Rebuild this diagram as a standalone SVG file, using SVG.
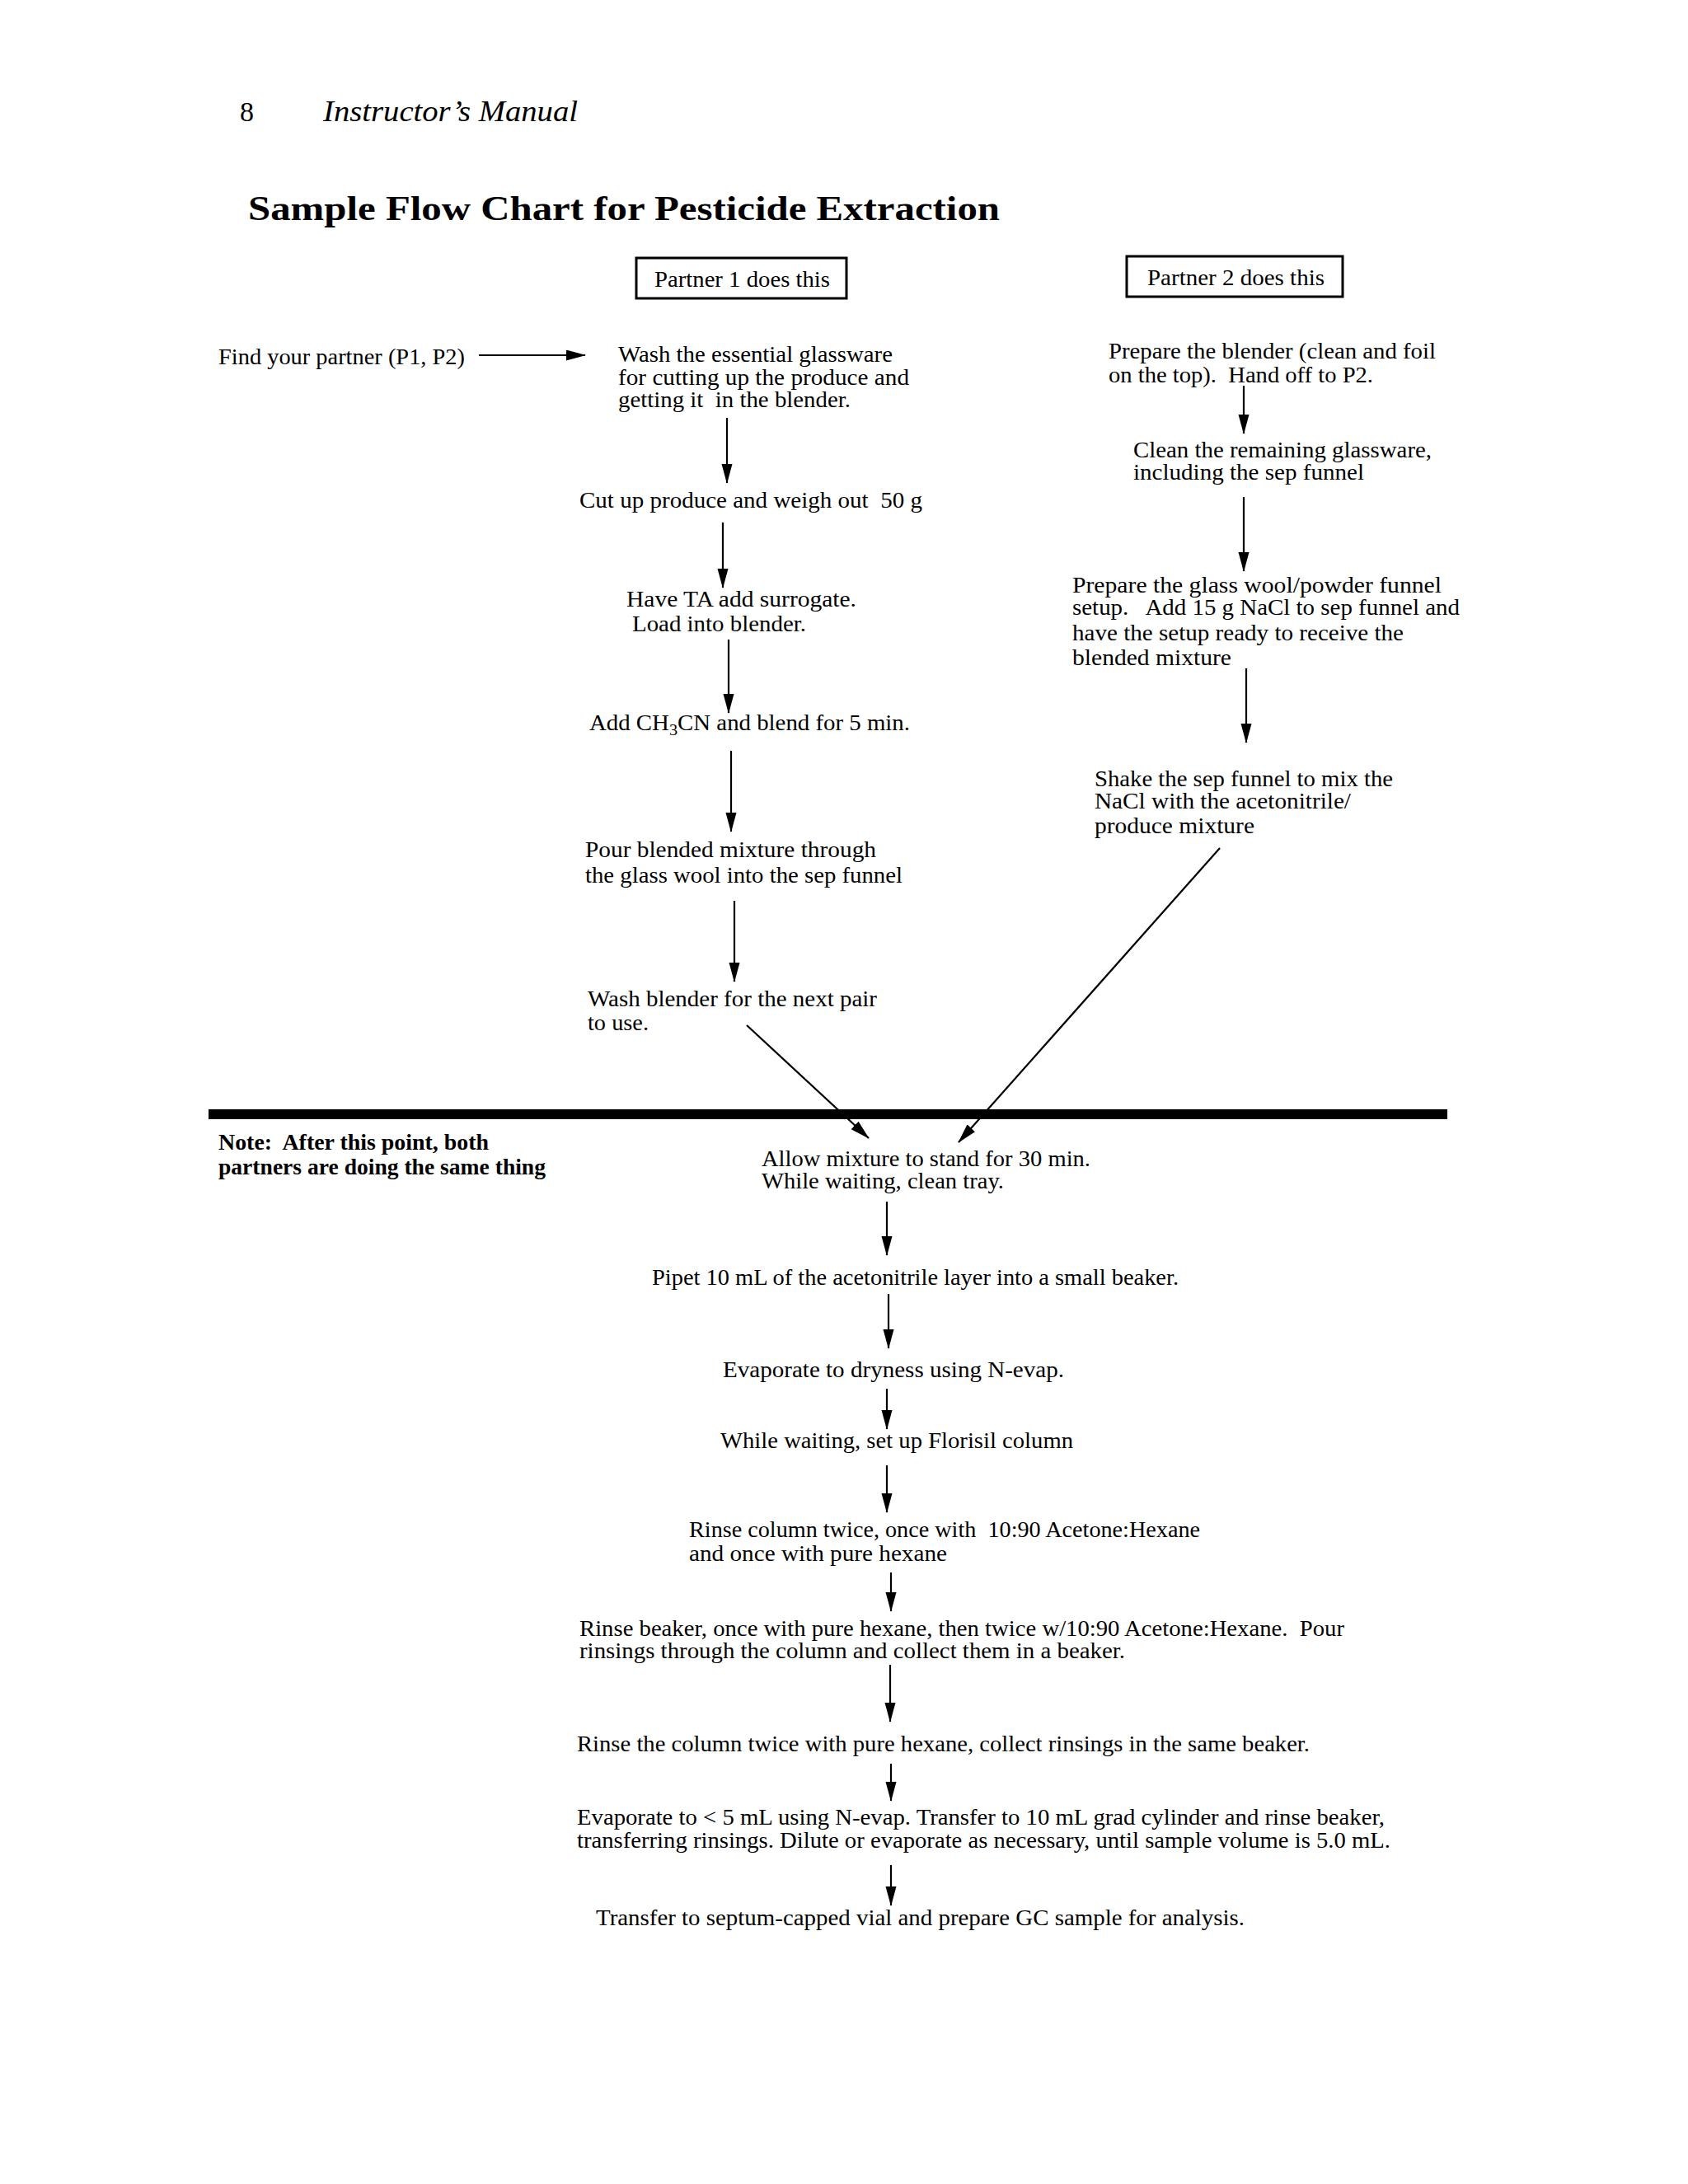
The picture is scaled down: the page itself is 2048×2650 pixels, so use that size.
<svg xmlns="http://www.w3.org/2000/svg" width="2048" height="2650" viewBox="0 0 2048 2650">
<style>
text{font-family:"Liberation Serif","DejaVu Serif",serif;font-size:27px;fill:#000}
.b{font-weight:bold}
.hdr{font-size:34px}
.it{font-style:italic;font-size:36px}
.ttl{font-size:42px;font-weight:bold}
.box{fill:none;stroke:#000;stroke-width:3}
.c line{stroke:#000;stroke-width:2.2}
.bar{stroke:#000;stroke-width:12}
</style>
<defs>
<marker id="ah" markerUnits="userSpaceOnUse" markerWidth="24" markerHeight="14" refX="23" refY="6.5" orient="auto">
<path d="M0,0 L24,6.5 L0,13 z" fill="#000"/>
</marker>
</defs>
<rect width="2048" height="2650" fill="#fff"/>
<g id="header">
<text class="hdr" x="291" y="147">8</text>
<text class="it" x="392" y="147" textLength="309" lengthAdjust="spacingAndGlyphs">Instructor’s Manual</text>
<text class="ttl" x="301" y="267" textLength="912" lengthAdjust="spacingAndGlyphs">Sample Flow Chart for Pesticide Extraction</text>
</g>
<g id="partner1">
<rect class="box" x="772" y="313" width="255" height="49"/>
<text x="794" y="348" textLength="213" lengthAdjust="spacingAndGlyphs">Partner 1 does this</text>
</g>
<g id="partner2">
<rect class="box" x="1367" y="311" width="262" height="49"/>
<text x="1392" y="346" textLength="215" lengthAdjust="spacingAndGlyphs">Partner 2 does this</text>
</g>
<g id="find">
<text x="265" y="442" textLength="299" lengthAdjust="spacingAndGlyphs">Find your partner (P1, P2)</text>
</g>
<g id="p1-wash">
<text x="750" y="439" textLength="333" lengthAdjust="spacingAndGlyphs">Wash the essential glassware</text>
<text x="750" y="467" textLength="353" lengthAdjust="spacingAndGlyphs">for cutting up the produce and</text>
<text x="750" y="494" textLength="282" lengthAdjust="spacingAndGlyphs" xml:space="preserve">getting it  in the blender.</text>
</g>
<g id="p1-cut">
<text x="703" y="616" textLength="416" lengthAdjust="spacingAndGlyphs" xml:space="preserve">Cut up produce and weigh out  50 g</text>
</g>
<g id="p1-ta">
<text x="760" y="736" textLength="279" lengthAdjust="spacingAndGlyphs">Have TA add surrogate.</text>
<text x="767" y="766" textLength="211" lengthAdjust="spacingAndGlyphs">Load into blender.</text>
</g>
<g id="p1-add">
<text x="715" y="886" textLength="389" lengthAdjust="spacingAndGlyphs">Add CH<tspan font-size="19" dy="6">3</tspan><tspan dy="-6">CN and blend for 5 min.</tspan></text>
</g>
<g id="p1-pour">
<text x="710" y="1040" textLength="353" lengthAdjust="spacingAndGlyphs">Pour blended mixture through</text>
<text x="710" y="1071" textLength="385" lengthAdjust="spacingAndGlyphs">the glass wool into the sep funnel</text>
</g>
<g id="p1-washblender">
<text x="713" y="1221" textLength="351" lengthAdjust="spacingAndGlyphs">Wash blender for the next pair</text>
<text x="713" y="1250" textLength="74" lengthAdjust="spacingAndGlyphs">to use.</text>
</g>
<g id="p2-prepare">
<text x="1345" y="435" textLength="397" lengthAdjust="spacingAndGlyphs">Prepare the blender (clean and foil</text>
<text x="1345" y="464" textLength="321" lengthAdjust="spacingAndGlyphs" xml:space="preserve">on the top).  Hand off to P2.</text>
</g>
<g id="p2-clean">
<text x="1375" y="555" textLength="362" lengthAdjust="spacingAndGlyphs">Clean the remaining glassware,</text>
<text x="1375" y="582" textLength="280" lengthAdjust="spacingAndGlyphs">including the sep funnel</text>
</g>
<g id="p2-glasswool">
<text x="1301" y="719" textLength="448" lengthAdjust="spacingAndGlyphs">Prepare the glass wool/powder funnel</text>
<text x="1301" y="746" textLength="470" lengthAdjust="spacingAndGlyphs" xml:space="preserve">setup.   Add 15 g NaCl to sep funnel and</text>
<text x="1301" y="777" textLength="402" lengthAdjust="spacingAndGlyphs">have the setup ready to receive the</text>
<text x="1301" y="807" textLength="193" lengthAdjust="spacingAndGlyphs">blended mixture</text>
</g>
<g id="p2-shake">
<text x="1328" y="954" textLength="362" lengthAdjust="spacingAndGlyphs">Shake the sep funnel to mix the</text>
<text x="1328" y="981" textLength="311" lengthAdjust="spacingAndGlyphs">NaCl with the acetonitrile/</text>
<text x="1328" y="1011" textLength="194" lengthAdjust="spacingAndGlyphs">produce mixture</text>
</g>
<g id="note">
<text class="b" x="265" y="1395" textLength="328" lengthAdjust="spacingAndGlyphs" xml:space="preserve">Note:  After this point, both</text>
<text class="b" x="265" y="1425" textLength="397" lengthAdjust="spacingAndGlyphs">partners are doing the same thing</text>
</g>
<g id="allow">
<text x="924" y="1415" textLength="399" lengthAdjust="spacingAndGlyphs">Allow mixture to stand for 30 min.</text>
<text x="924" y="1442" textLength="294" lengthAdjust="spacingAndGlyphs">While waiting, clean tray.</text>
</g>
<g id="pipet">
<text x="791" y="1559" textLength="639" lengthAdjust="spacingAndGlyphs">Pipet 10 mL of the acetonitrile layer into a small beaker.</text>
</g>
<g id="evap1">
<text x="877" y="1671" textLength="414" lengthAdjust="spacingAndGlyphs">Evaporate to dryness using N-evap.</text>
</g>
<g id="florisil">
<text x="874" y="1757" textLength="428" lengthAdjust="spacingAndGlyphs">While waiting, set up Florisil column</text>
</g>
<g id="rinse-column">
<text x="836" y="1865" textLength="620" lengthAdjust="spacingAndGlyphs" xml:space="preserve">Rinse column twice, once with  10:90 Acetone:Hexane</text>
<text x="836" y="1894" textLength="313" lengthAdjust="spacingAndGlyphs">and once with pure hexane</text>
</g>
<g id="rinse-beaker">
<text x="703" y="1985" textLength="928" lengthAdjust="spacingAndGlyphs" xml:space="preserve">Rinse beaker, once with pure hexane, then twice w/10:90 Acetone:Hexane.  Pour</text>
<text x="703" y="2012" textLength="662" lengthAdjust="spacingAndGlyphs">rinsings through the column and collect them in a beaker.</text>
</g>
<g id="rinse-twice">
<text x="700" y="2125" textLength="889" lengthAdjust="spacingAndGlyphs">Rinse the column twice with pure hexane, collect rinsings in the same beaker.</text>
</g>
<g id="evap2">
<text x="700" y="2214" textLength="980" lengthAdjust="spacingAndGlyphs">Evaporate to &lt; 5 mL using N-evap. Transfer to 10 mL grad cylinder and rinse beaker,</text>
<text x="700" y="2242" textLength="987" lengthAdjust="spacingAndGlyphs">transferring rinsings. Dilute or evaporate as necessary, until sample volume is 5.0 mL.</text>
</g>
<g id="transfer">
<text x="723" y="2336" textLength="787" lengthAdjust="spacingAndGlyphs">Transfer to septum-capped vial and prepare GC sample for analysis.</text>
</g>
<g id="divider">
<line class="bar" x1="253" y1="1352" x2="1756" y2="1352"/>
</g>
<g id="connectors" class="c">
<line x1="581" y1="431" x2="710" y2="431" marker-end="url(#ah)"/>
<line x1="882" y1="507" x2="882" y2="586" marker-end="url(#ah)"/>
<line x1="877" y1="634" x2="877" y2="713" marker-end="url(#ah)"/>
<line x1="884" y1="776" x2="884" y2="865" marker-end="url(#ah)"/>
<line x1="887" y1="911" x2="887" y2="1009" marker-end="url(#ah)"/>
<line x1="891" y1="1093" x2="891" y2="1191" marker-end="url(#ah)"/>
<line x1="906" y1="1244" x2="1054" y2="1381" marker-end="url(#ah)"/>
<line x1="1509" y1="468" x2="1509" y2="526" marker-end="url(#ah)"/>
<line x1="1509" y1="603" x2="1509" y2="693" marker-end="url(#ah)"/>
<line x1="1512" y1="811" x2="1512" y2="901" marker-end="url(#ah)"/>
<line x1="1480" y1="1029" x2="1163" y2="1386" marker-end="url(#ah)"/>
<line x1="1076" y1="1458" x2="1076" y2="1523" marker-end="url(#ah)"/>
<line x1="1078" y1="1570" x2="1078" y2="1636" marker-end="url(#ah)"/>
<line x1="1076" y1="1685" x2="1076" y2="1734" marker-end="url(#ah)"/>
<line x1="1076" y1="1778" x2="1076" y2="1835" marker-end="url(#ah)"/>
<line x1="1081" y1="1908" x2="1081" y2="1955" marker-end="url(#ah)"/>
<line x1="1080" y1="2020" x2="1080" y2="2089" marker-end="url(#ah)"/>
<line x1="1081" y1="2140" x2="1081" y2="2185" marker-end="url(#ah)"/>
<line x1="1081" y1="2263" x2="1081" y2="2312" marker-end="url(#ah)"/>
</g>
</svg>
